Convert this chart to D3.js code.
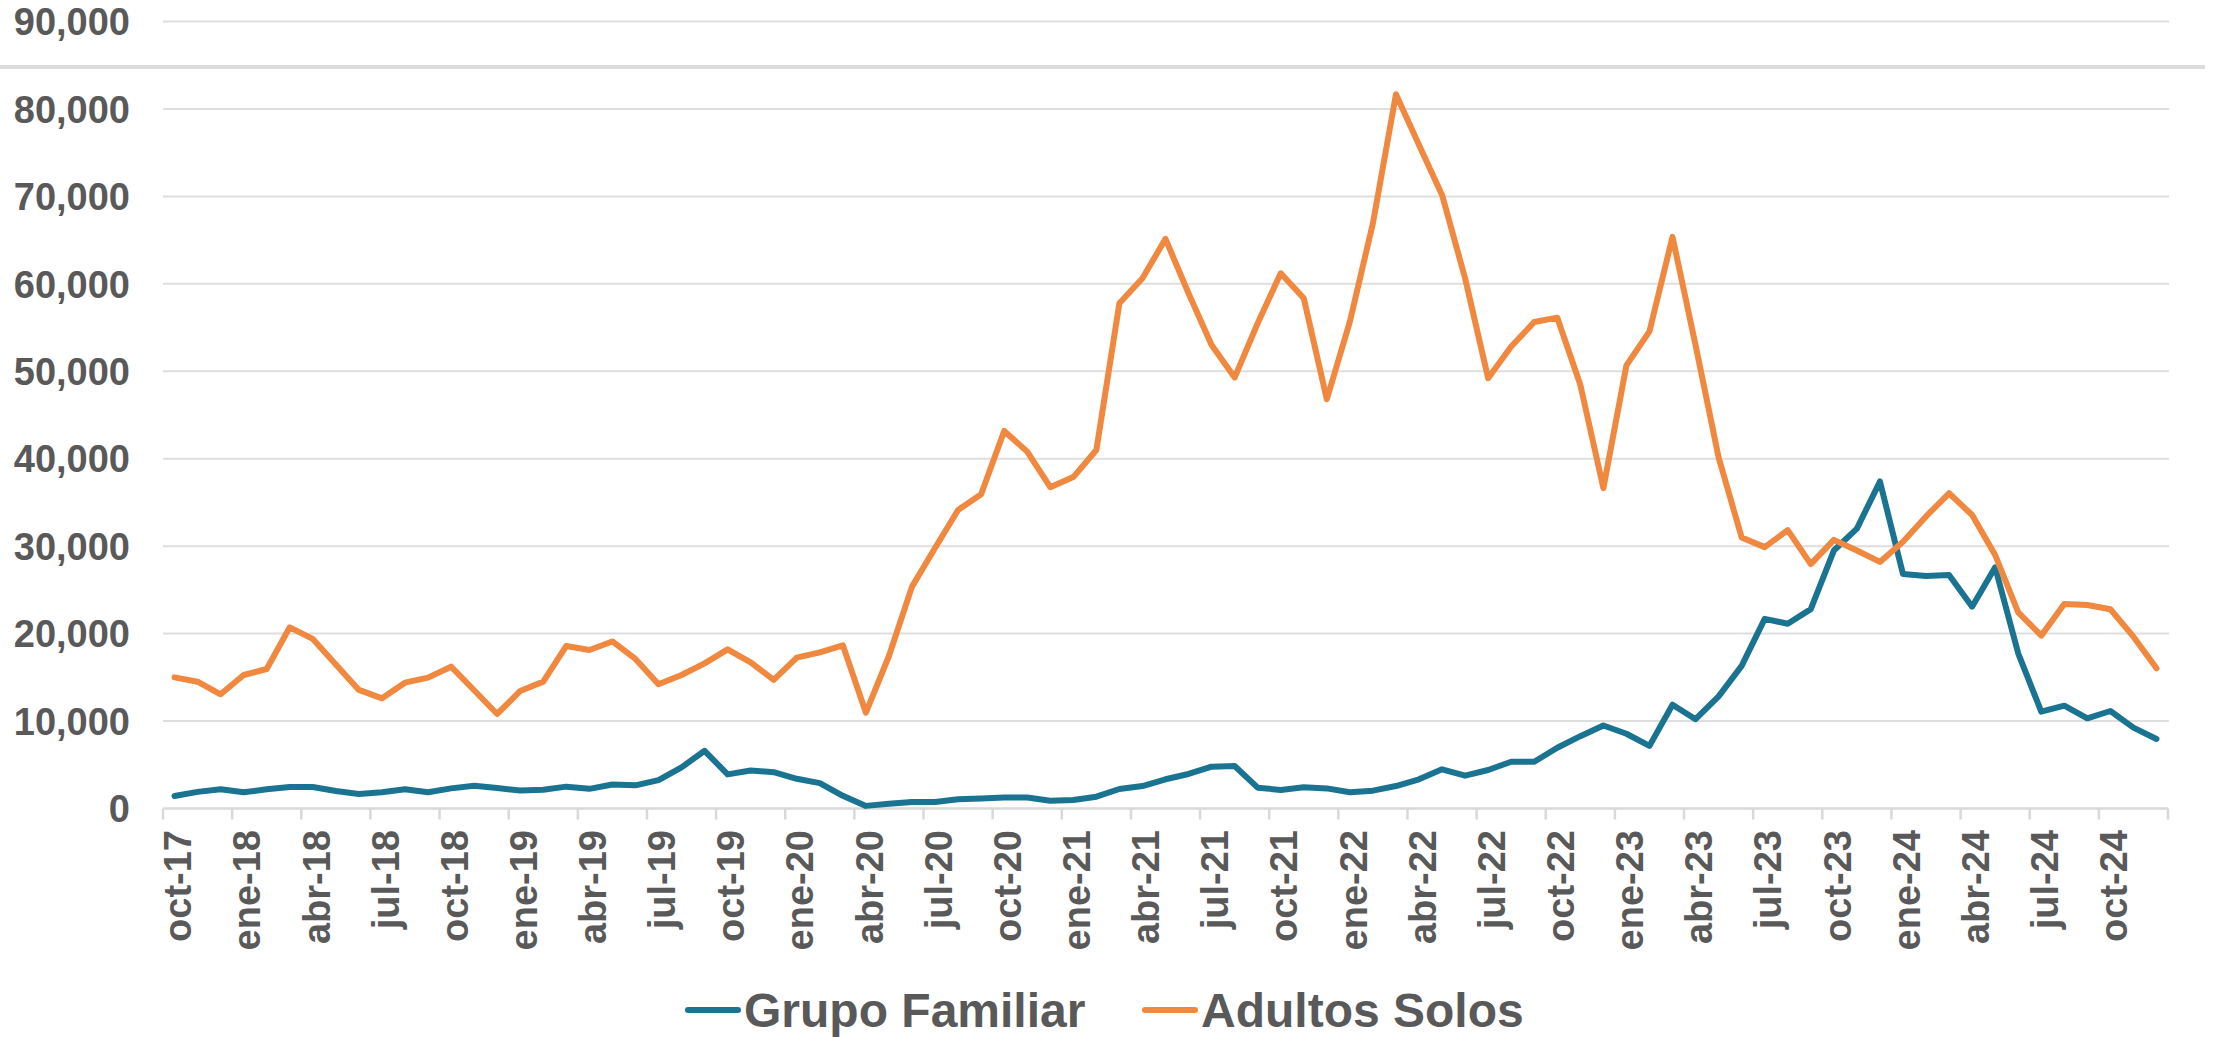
<!DOCTYPE html>
<html>
<head>
<meta charset="utf-8">
<script src="https://cdn.jsdelivr.net/npm/d3@7"></script>
<style>
  html, body { margin: 0; padding: 0; background: #fff; }
  svg text { font-family: "Liberation Sans", Arial, sans-serif; font-weight: bold; fill: #595959; }
</style>
</head>
<body>
<svg id="chart"></svg>
<script>
// ------------------------------------------------------------- data
const months = [
  'oct-17','nov-17','dic-17','ene-18','feb-18','mar-18','abr-18','may-18','jun-18','jul-18','ago-18','sep-18',
  'oct-18','nov-18','dic-18','ene-19','feb-19','mar-19','abr-19','may-19','jun-19','jul-19','ago-19','sep-19',
  'oct-19','nov-19','dic-19','ene-20','feb-20','mar-20','abr-20','may-20','jun-20','jul-20','ago-20','sep-20',
  'oct-20','nov-20','dic-20','ene-21','feb-21','mar-21','abr-21','may-21','jun-21','jul-21','ago-21','sep-21',
  'oct-21','nov-21','dic-21','ene-22','feb-22','mar-22','abr-22','may-22','jun-22','jul-22','ago-22','sep-22',
  'oct-22','nov-22','dic-22','ene-23','feb-23','mar-23','abr-23','may-23','jun-23','jul-23','ago-23','sep-23',
  'oct-23','nov-23','dic-23','ene-24','feb-24','mar-24','abr-24','may-24','jun-24','jul-24','ago-24','sep-24',
  'oct-24','nov-24','dic-24'
];

const grupoFamiliar = [
  1430, 1900, 2200, 1850, 2200, 2450, 2450, 2000, 1650, 1850, 2200, 1850,
  2300, 2600, 2350, 2050, 2150, 2500, 2250, 2750, 2650, 3250, 4700, 6600,
  3900, 4350, 4150, 3400, 2900, 1450, 300, 550, 750, 750, 1050, 1150,
  1250, 1250, 880, 970, 1350, 2230, 2570, 3340, 3950, 4780, 4860, 2380,
  2120, 2420, 2300, 1850, 2040, 2570, 3340, 4480, 3750, 4400, 5350, 5350,
  6950, 8270, 9490, 8550, 7160, 11870, 10210, 12820, 16310, 21690, 21130, 22800,
  29500, 32000, 37400, 26820, 26590, 26710, 23080, 27580, 17750, 11080, 11760, 10310,
  11150, 9250, 7950
];

const adultosSolos = [
  15000, 14500, 13060, 15270, 15950, 20720, 19390, 16480, 13560, 12600, 14390, 14970,
  16220, 13520, 10810, 13440, 14510, 18590, 18130, 19100, 17100, 14200, 15270, 16600,
  18200, 16720, 14700, 17250, 17860, 18660, 10960, 17440, 25370, 29800, 34140, 35930,
  43180, 40810, 36750, 37900, 41000, 57780, 60640, 65140, 58900, 53010, 49280, 55490,
  61210, 58350, 46800, 55680, 66930, 81680, 75890, 70170, 60640, 49200, 52840, 55630,
  56130, 48450, 36640, 50670, 54560, 65370, 53000, 40150, 31000, 29890, 31830, 27950,
  30720, 29500, 28200, 30500, 33400, 36050, 33570, 28990, 22440, 19770, 23390, 23280,
  22780, 19650, 16030
];

const yTicks = [0, 10000, 20000, 30000, 40000, 50000, 60000, 70000, 80000, 90000];

const series = [
  { name: 'Grupo Familiar', values: grupoFamiliar, color: '#1a7391' },
  { name: 'Adultos Solos',  values: adultosSolos,  color: '#f0893f' }
];

// ------------------------------------------------------------- setup
const width  = 2221;
const height = 1037;

const svg = d3.select('#chart').attr('width', width).attr('height', height);

const x = d3.scaleBand().domain(d3.range(months.length)).range([163, 2168]);
const y = d3.scaleLinear().domain([0, 90000]).range([808.5, 21.5]);
const cx = i => x(i) + x.bandwidth() / 2;

// ------------------------------------------------------------- grid + y labels
svg.append('g').selectAll('line')
  .data(yTicks.filter(d => d > 0))
  .enter().append('line')
  .attr('x1', 163).attr('x2', 2169)
  .attr('y1', d => y(d)).attr('y2', d => y(d))
  .style('stroke', '#dedede')
  .style('stroke-width', 2);

svg.append('g').selectAll('text')
  .data(yTicks)
  .enter().append('text')
  .attr('x', 130)
  .attr('y', d => y(d))
  .attr('dy', '0.36em')
  .attr('text-anchor', 'end')
  .style('font-size', '38px')
  .text(d3.format(','));

// odd thick rule between the top two gridlines
svg.append('line')
  .attr('x1', 0).attr('x2', 2205)
  .attr('y1', 67).attr('y2', 67)
  .style('stroke', '#dcdcdc')
  .style('stroke-width', 4);

// ------------------------------------------------------------- x axis
svg.append('line')
  .attr('x1', 163).attr('x2', 2168)
  .attr('y1', y(0)).attr('y2', y(0))
  .style('stroke', '#d9d9d9')
  .style('stroke-width', 2.5);

const tickIdx = d3.range(0, months.length + 1, 3);
svg.append('g').selectAll('line')
  .data(tickIdx)
  .enter().append('line')
  .attr('x1', i => i < months.length ? x(i) : x.range()[1])
  .attr('x2', i => i < months.length ? x(i) : x.range()[1])
  .attr('y1', y(0)).attr('y2', y(0) + 11)
  .style('stroke', '#d9d9d9')
  .style('stroke-width', 2.5);

svg.append('g').selectAll('text')
  .data(tickIdx.filter(i => i < months.length))
  .enter().append('text')
  .attr('transform', i => `translate(${cx(i)},830) rotate(-90)`)
  .attr('dy', '0.44em')
  .attr('text-anchor', 'end')
  .style('font-size', '38px')
  .text(i => months[i]);

// ------------------------------------------------------------- lines
const line = d3.line()
  .x((d, i) => cx(i))
  .y(d => y(d));

svg.append('g').selectAll('path')
  .data(series)
  .enter().append('path')
  .attr('d', d => line(d.values))
  .style('fill', 'none')
  .style('stroke', d => d.color)
  .style('stroke-width', 6)
  .style('stroke-linejoin', 'round')
  .style('stroke-linecap', 'round');

// ------------------------------------------------------------- legend
const legendX = [688, 1145];
const legend = svg.append('g').selectAll('g')
  .data(series)
  .enter().append('g')
  .attr('transform', (d, i) => `translate(${legendX[i]},1010)`);

legend.append('line')
  .attr('x1', 0).attr('x2', 50)
  .style('stroke', d => d.color)
  .style('stroke-width', 6)
  .style('stroke-linecap', 'round');

legend.append('text')
  .attr('x', 56)
  .attr('dy', '0.36em')
  .style('font-size', '48px')
  .text(d => d.name);
</script>
</body>
</html>
